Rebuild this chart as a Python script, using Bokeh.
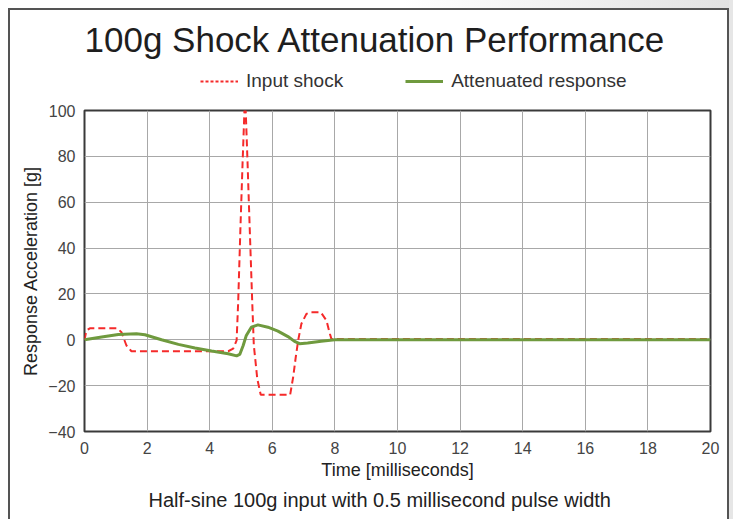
from bokeh.plotting import figure
from bokeh.layouts import column
from bokeh.models import ColumnDataSource, FixedTicker, Legend, LegendItem, Title
from bokeh.embed import file_html
from bokeh.resources import INLINE

# Input shock (red dashed): time [ms], acceleration [g]
input_t = [0, 0.06, 0.17, 1.05, 1.18, 1.34, 1.5, 4.59, 4.75, 4.86, 4.91, 4.98, 5.05,
           5.11, 5.15, 5.21, 5.28, 5.36, 5.41, 5.46, 5.52, 5.63, 6.57, 6.67, 6.75,
           6.83, 6.93, 7.09, 7.2, 7.55, 7.73, 7.84, 7.89, 20]
input_g = [0, 4, 5, 5, 3.3, -2.5, -5, -5, -3.9, -0.3, 16.4, 48, 77,
           100, 100, 77, 48, 16, -2.5, -9, -17, -24, -24, -16, -7.5,
           0, 7, 11.3, 12, 12, 8.4, 2.6, 0.3, 0.3]

# Attenuated response (green solid)
resp_t = [0, 0.55, 1.08, 1.66, 1.93, 2.46, 3.0, 3.53, 4.06, 4.59, 4.86, 4.96, 5.07,
          5.17, 5.33, 5.54, 5.86, 6.18, 6.5, 6.71, 6.87, 7.13, 7.56, 8.0, 20]
resp_g = [0, 1.2, 2.3, 2.6, 2.2, 0, -2, -3.6, -4.9, -6.1, -7, -6.4, -2.5,
          1.9, 5.5, 6.5, 5.5, 3.8, 1.4, -0.7, -1.7, -1.4, -0.6, 0, 0]

series_names = ["Input shock", "Attenuated response"]
x_ticks = [0, 2, 4, 6, 8, 10, 12, 14, 16, 18, 20]
y_ticks = [-40, -20, 0, 20, 40, 60, 80, 100]

FONT = "Liberation Sans"
RED = "#f52a2a"
GREEN = "#6f9a3e"

src_in = ColumnDataSource(dict(t=input_t, g=input_g))
src_rs = ColumnDataSource(dict(t=resp_t, g=resp_g))

# ---------- header: title + legend (its ranges keep the series out of view) ----------
head = figure(width=733, height=100, x_range=(0, 1), y_range=(1000, 1001),
              x_axis_type=None, y_axis_type=None,
              output_backend="svg", toolbar_location=None,
              min_border_left=84, min_border_right=23, min_border_top=58,
              min_border_bottom=0, outline_line_color=None,
              border_fill_color=None, background_fill_color=None)
head.title = Title(text="100g Shock Attenuation Performance", align="left",
                   text_font=FONT, text_font_size="35px", text_font_style="normal",
                   text_color="#1e1e1e", standoff=0, offset=0)

leg_in = head.line("t", "g", source=src_in, line_color=RED, line_width=2,
                   line_dash="3 2")
leg_rs = head.line("t", "g", source=src_rs, line_color=GREEN, line_width=3)
legend = Legend(items=[LegendItem(label=series_names[0], renderers=[leg_in]),
                       LegendItem(label=series_names[1], renderers=[leg_rs])],
                orientation="horizontal", location=(116, 8),
                glyph_width=38, label_standoff=8, spacing=62,
                padding=0, margin=0, border_line_color=None,
                background_fill_alpha=0,
                label_text_font=FONT, label_text_font_size="19px",
                label_text_color="#333333")
head.add_layout(legend, "center")

# ---------- main chart ----------
p = figure(width=733, height=419, x_range=(0, 20), y_range=(-40, 100),
           output_backend="svg", toolbar_location=None,
           min_border_left=84, min_border_right=23, min_border_top=10,
           min_border_bottom=88, border_fill_color=None)

p.line("t", "g", source=src_in, line_color=RED, line_width=2, line_dash="7 4")
p.line("t", "g", source=src_rs, line_color=GREEN, line_width=3)

p.xaxis.ticker = FixedTicker(ticks=x_ticks)
p.yaxis.ticker = FixedTicker(ticks=y_ticks)
for ax in (p.xaxis[0], p.yaxis[0]):
    ax.major_tick_line_color = None
    ax.minor_tick_line_color = None
    ax.axis_line_color = None
    ax.major_label_text_font = FONT
    ax.major_label_text_font_size = "16px"
    ax.major_label_text_color = "#444444"
    ax.axis_label_text_font = FONT
    ax.axis_label_text_font_size = "18px"
    ax.axis_label_text_font_style = "normal"
    ax.axis_label_text_color = "#222222"

p.xaxis.axis_label = "Time [milliseconds]"
p.yaxis.axis_label = "Response Acceleration [g]"
p.xaxis.major_label_standoff = 4
p.yaxis.major_label_standoff = 3
p.xaxis.axis_label_standoff = 3
p.yaxis.axis_label_standoff = 4

p.xgrid.grid_line_color = "#a8a8a8"
p.ygrid.grid_line_color = "#a8a8a8"
p.xgrid.grid_line_width = 1
p.ygrid.grid_line_width = 1

p.outline_line_color = "#3a3a3a"
p.outline_line_width = 2

caption = Title(text="Half-sine 100g input with 0.5 millisecond pulse width",
                align="left", offset=64, text_font=FONT, text_font_size="20px",
                text_font_style="normal", text_color="#222222", standoff=8)
p.add_layout(caption, "below")

frame_bg = ("linear-gradient(#545454,#545454) 8px 8px / 2px 511px no-repeat, "
            "linear-gradient(#545454,#545454) 8px 8px / 721px 2px no-repeat, "
            "linear-gradient(#545454,#545454) 727px 8px / 2px 511px no-repeat, "
            "linear-gradient(#e6e6e6,#e6e6e6) 729px 0px / 4px 519px no-repeat, "
            "linear-gradient(to right, #ffffff 55%, #e2e2e2) 0px 0px / 733px 8px no-repeat, "
            "#ffffff")
layout = column(head, p, spacing=0, styles={"background": frame_bg})

open("out.html", "w").write(file_html(layout, INLINE))
